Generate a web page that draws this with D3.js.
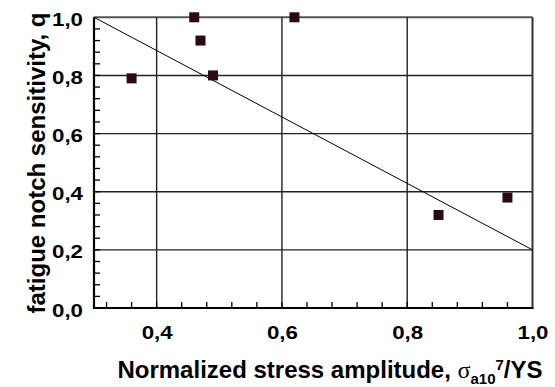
<!DOCTYPE html>
<html>
<head>
<meta charset="utf-8">
<script src="https://cdnjs.cloudflare.com/ajax/libs/d3/7.8.5/d3.min.js"></script>
<style>
  body { margin: 0; background: #fff; }
  svg { display: block; }
  text { font-family: "Liberation Sans", Arial, sans-serif; font-weight: bold; fill: #000; }
</style>
</head>
<body>
<svg id="chart" width="555" height="387"></svg>
<script>
// measured points
var stressAmp = [0.36, 0.46, 0.47, 0.49, 0.62, 0.85, 0.96];
var notchSens = [0.79, 1.00, 0.92, 0.80, 1.00, 0.32, 0.38];
// straight trend line
var trendX = [0.3, 1.0];
var trendY = [1.0, 0.2];
// ticks
var xMajor = [0.4, 0.6, 0.8, 1.0];
var yMajor = [0.0, 0.2, 0.4, 0.6, 0.8, 1.0];

var svg = d3.select("#chart");
var box = { left: 94, right: 532.5, top: 17.3, bottom: 308 };

var x = d3.scaleLinear().domain([0.3, 1.0]).range([box.left, box.right]);
var y = d3.scaleLinear().domain([0, 1.0]).range([box.bottom, box.top]);
var comma = function (v) { return d3.format(".1f")(v).replace(".", ","); };

// grid
svg.append("g").selectAll("line").data(yMajor.filter(function (d) { return d > 0; }))
    .enter().append("line")
    .attr("x1", box.left).attr("x2", box.right)
    .attr("y1", function (d) { return y(d); }).attr("y2", function (d) { return y(d); })
    .attr("stroke", function (d) { return d === 1.0 ? "#555" : "#222"; })
    .attr("stroke-width", function (d) { return d === 1.0 ? 2 : 1.4; });
svg.append("g").selectAll("line").data(xMajor)
    .enter().append("line")
    .attr("y1", box.top).attr("y2", box.bottom)
    .attr("x1", function (d) { return x(d); }).attr("x2", function (d) { return x(d); })
    .attr("stroke", function (d) { return d === 1.0 ? "#333" : "#222"; })
    .attr("stroke-width", function (d) { return d === 1.0 ? 2 : 1.4; });

// minor ticks (inside)
var minorX = d3.range(0.32, 1.0, 0.04);
var minorY = d3.range(0.04, 1.0, 0.04);
svg.append("g").selectAll("line").data(minorX)
    .enter().append("line")
    .attr("x1", function (d) { return x(d); }).attr("x2", function (d) { return x(d); })
    .attr("y1", box.bottom).attr("y2", box.bottom - 6)
    .attr("stroke", "#000").attr("stroke-width", 1.3);
svg.append("g").selectAll("line").data(minorY)
    .enter().append("line")
    .attr("y1", function (d) { return y(d); }).attr("y2", function (d) { return y(d); })
    .attr("x1", box.left).attr("x2", box.left + 6)
    .attr("stroke", "#000").attr("stroke-width", 1.3);

// axes lines
svg.append("line").attr("x1", box.left).attr("x2", box.left)
    .attr("y1", box.top).attr("y2", box.bottom + 1)
    .attr("stroke", "#000").attr("stroke-width", 2.2);
svg.append("line").attr("x1", box.left - 1).attr("x2", box.right + 1)
    .attr("y1", box.bottom).attr("y2", box.bottom)
    .attr("stroke", "#000").attr("stroke-width", 2.2);

// tick labels
svg.append("g").selectAll("text").data(yMajor)
    .enter().append("text")
    .attr("x", box.left - 11)
    .attr("y", function (d) { return y(d) + 8.6; })
    .attr("text-anchor", "end")
    .attr("textLength", 31).attr("lengthAdjust", "spacingAndGlyphs")
    .style("font-size", "19px")
    .text(comma);
svg.append("g").selectAll("text").data(xMajor)
    .enter().append("text")
    .attr("x", function (d) { return x(d) + 0.5; })
    .attr("y", 339)
    .attr("text-anchor", "middle")
    .attr("textLength", 31).attr("lengthAdjust", "spacingAndGlyphs")
    .style("font-size", "19px")
    .text(comma);

// trend line
svg.append("path")
    .datum(d3.zip(trendX, trendY))
    .attr("d", d3.line().x(function (d) { return x(d[0]); }).y(function (d) { return y(d[1]); }))
    .attr("fill", "none").attr("stroke", "#000").attr("stroke-width", 1);

// squares
var sq = 10;
svg.append("g").selectAll("rect").data(d3.zip(stressAmp, notchSens))
    .enter().append("rect")
    .attr("x", function (d) { return x(d[0]) - sq / 2; })
    .attr("y", function (d) { return y(d[1]) - sq / 2; })
    .attr("width", sq).attr("height", sq)
    .attr("fill", "#2a0b14");

// axis titles
svg.append("text")
    .attr("transform", "translate(45,163) rotate(-90)")
    .attr("text-anchor", "middle")
    .style("font-size", "24px")
    .text("fatigue notch sensitivity, q");

var xt = svg.append("text")
    .attr("x", 330).attr("y", 378)
    .attr("text-anchor", "middle")
    .style("font-size", "24px");
xt.append("tspan").text("Normalized stress amplitude, ");
xt.append("tspan").text("σ").style("font-family", "'Liberation Serif', serif").style("font-weight", "normal");
xt.append("tspan").text("a10").style("font-size", "15px").attr("dy", 6);
xt.append("tspan").text("7").style("font-size", "15px").attr("dy", -14);
xt.append("tspan").text("/YS").attr("dy", 8);
</script>
</body>
</html>
